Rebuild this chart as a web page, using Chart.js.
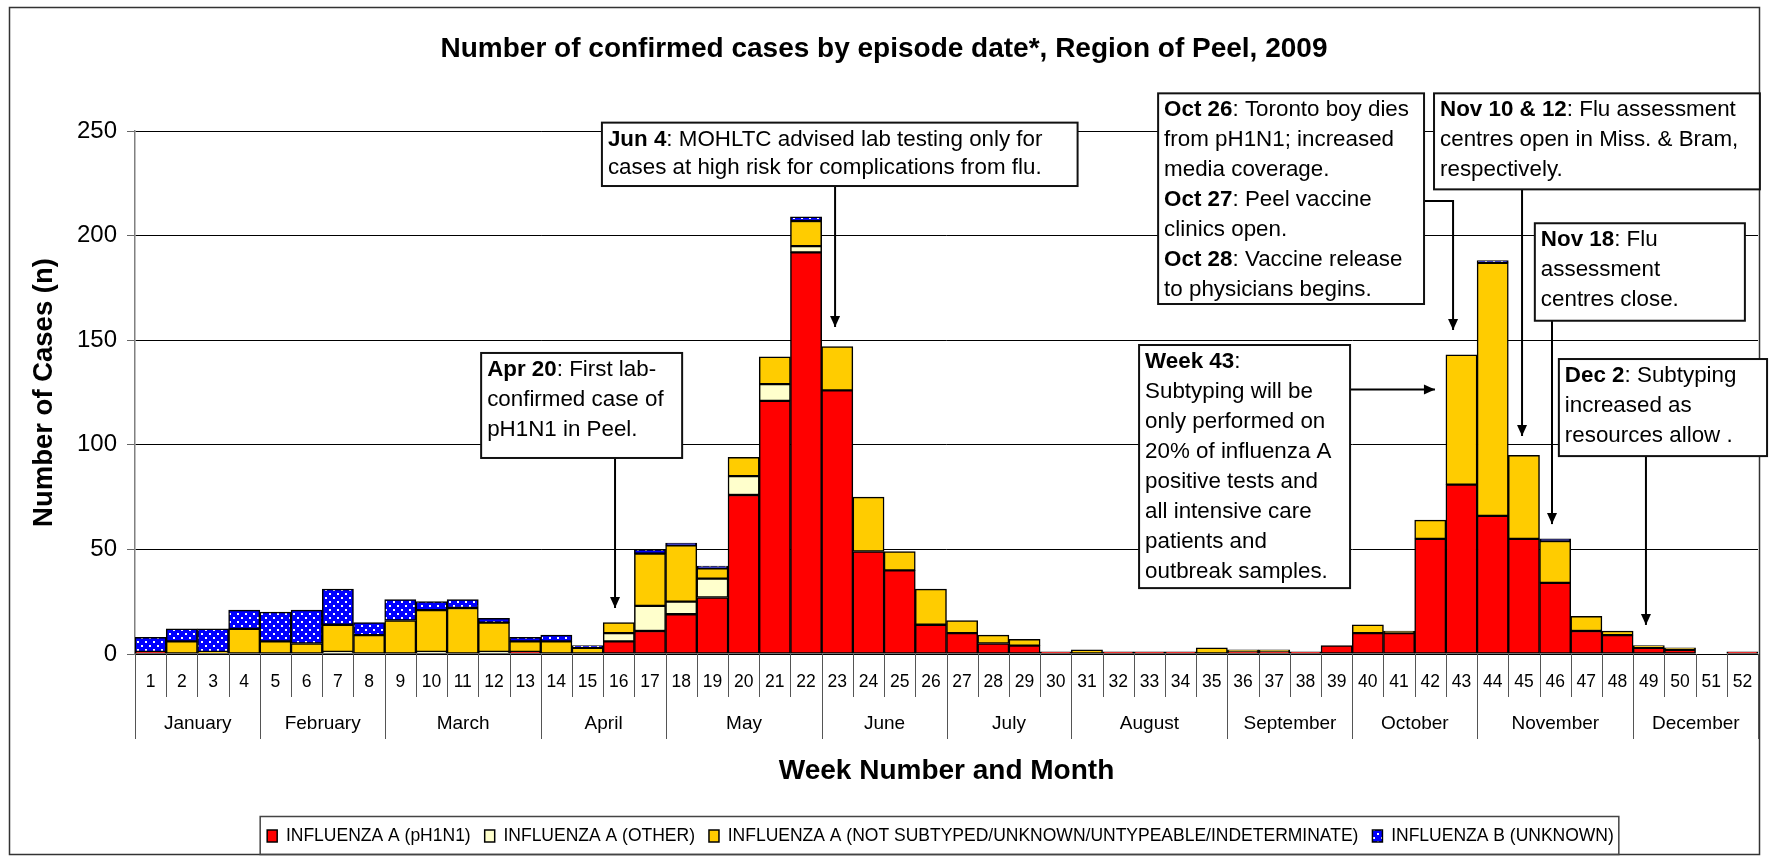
<!DOCTYPE html>
<html>
<head>
<meta charset="utf-8">
<script src="https://cdn.jsdelivr.net/npm/chart.js@4.4.1/dist/chart.umd.min.js"></script>
<style>html,body{margin:0;padding:0;background:#fff}canvas{display:block}</style>
</head>
<body>
<canvas id="c" width="1771" height="857"></canvas>
<script>
// ---------------- DATA ----------------
const weekLabels = ['1','2','3','4','5','6','7','8','9','10','11','12','13','14','15','16','17','18','19','20','21','22','23','24','25','26',
  '27','28','29','30','31','32','33','34','35','36','37','38','39','40','41','42','43','44','45','46','47','48','49','50','51','52'];
const monthNames = ['January','February','March','April','May','June','July','August','September','October','November','December'];
const weeksPerMonth = [4,4,5,4,5,4,4,5,4,4,5,4];
const seriesNames = ['INFLUENZA A (pH1N1)','INFLUENZA A (OTHER)','INFLUENZA A (NOT SUBTYPED/UNKNOWN/UNTYPEABLE/INDETERMINATE)','INFLUENZA B (UNKNOWN)'];
const fluA_pH1N1 = [1,0,0,0,0,0,0,0,0,0,0,0,1,0,0,6,11,19,27,76,121,192,126,49,40,14,
  10,5,4,1,0,1,1,1,0,1,1,1,4,10,10,55,81,66,55,34,11,9,3,2,0,1];
const fluA_other = [0,0,0,0,0,0,1,0,0,1,0,1,0,0,0,4,12,6,9,9,8,3,0,0,0,0,
  0,0,0,0,0,0,0,0,0,0,0,0,0,0,0,0,0,0,0,0,0,0,0,0,0,0];
const fluA_notSubtyped = [0,6,1,12,6,5,13,9,16,20,22,14,5,6,3,5,25,27,5,9,13,12,21,26,9,17,
  6,4,3,0,2,0,0,0,3,1,1,0,0,4,1,9,62,121,40,20,7,2,1,1,0,0];
const fluB = [7,6,11,9,14,16,17,6,10,4,4,2,2,3,1,0,2,1,1,0,0,2,0,0,0,0,
  0,0,0,0,0,0,0,0,0,0,0,0,0,0,0,0,0,1,0,1,0,0,0,0,0,0];
const yTicks = [0,50,100,150,200,250];

const chartTitle = 'Number of confirmed cases by episode date*, Region of Peel, 2009';
const xTitle = 'Week Number and Month';
const yTitle = 'Number of Cases (n)';

// annotations: box = [xStart, xEnd, yTop, yBottom] in (week index, cases) units
const notes = [
  {lines:[['Apr 20',': First lab-'],['','confirmed case of'],['','pH1N1 in Peel.']],
   box:[10.59,17.03,143.9,93.7], lh:30, arrow:[[14.88,93.7],[14.88,22.0]]},
  {lines:[['Jun 4',': MOHLTC advised lab testing only for'],['','cases at high risk for complications from flu.']],
   box:[14.46,29.70,254.0,223.7], lh:28, arrow:[[21.93,223.7],[21.93,156.3]]},
  {lines:[['Oct 26',': Toronto boy dies'],['','from pH1N1; increased'],['','media coverage.'],['Oct 27',': Peel vaccine'],['','clinics open.'],['Oct 28',': Vaccine release'],['','to physicians begins.']],
   box:[32.28,40.80,268.0,167.3], lh:30, arrow:[[40.80,216.5],[41.73,216.5],[41.73,154.9]]},
  {lines:[['Nov 10 & 12',': Flu assessment'],['','centres open in Miss. & Bram,'],['','respectively.']],
   box:[41.12,51.56,268.0,222.1], lh:30, arrow:[[43.94,222.1],[43.94,104.2]]},
  {lines:[['Week 43',':'],['','Subtyping will be'],['','only performed on'],['','20% of influenza A'],['','positive tests and'],['','all intensive care'],['','patients and'],['','outbreak samples.']],
   box:[31.67,38.43,147.7,31.5], lh:30, arrow:[[38.43,126.4],[41.15,126.4]]},
  {lines:[['Nov 18',': Flu'],['','assessment'],['','centres close.']],
   box:[44.35,51.08,205.9,159.3], lh:30, arrow:[[44.90,159.3],[44.90,62.1]]},
  {lines:[['Dec 2',': Subtyping'],['','increased as'],['','resources allow .']],
   box:[45.12,51.79,141.0,94.6], lh:30, arrow:[[47.91,94.6],[47.91,13.9]]}
];

// ---------------- STYLE ----------------
const FONT = "'Liberation Sans', Arial, Helvetica, sans-serif";
const NOTE_FS = 21.5, NOTE_SX = 1.04;

function dotPattern(){
  const c = document.createElement('canvas'); c.width = 8; c.height = 8;
  const g = c.getContext('2d');
  g.fillStyle = '#0000FF'; g.fillRect(0,0,8,8);
  g.fillStyle = '#FFFFFF'; g.fillRect(1,1,2,2); g.fillRect(5,5,2,2);
  return g.createPattern(c,'repeat');
}

const frame = {
  id:'frame',
  beforeDraw(chart){
    const {ctx,width,height} = chart;
    ctx.save();
    ctx.fillStyle = '#fff'; ctx.fillRect(0,0,width,height);
    ctx.strokeStyle = '#333'; ctx.lineWidth = 1.5;
    ctx.strokeRect(9.5,7.5,width-21,height-10);
    ctx.restore();
  }
};

const legendShift = {
  id:'legendShift',
  afterLayout(chart){
    const lg = chart.legend, ca = chart.chartArea;
    const d = (ca.left+ca.right)/2 - 6 - (lg.left+lg.right)/2;
    lg.left += d; lg.right += d;
  },
  afterDraw(chart){
    const lg = chart.legend, ctx = chart.ctx;
    const lo = chart.options.plugins.legend.labels;
    const pad = lo.padding, lw = lg.lineWidths[0];
    const x0 = (lg.left + pad + lg.right - lw)/2, x1 = x0 + lw - pad;
    const yc = lg.top + pad + lo.font.size/2;
    ctx.save();
    ctx.strokeStyle = '#444'; ctx.lineWidth = 1.5;
    ctx.strokeRect(x0-7, yc-19.5, x1-x0+12, 38);
    ctx.restore();
  }
};

const monthAxis = {
  id:'monthAxis',
  afterDraw(chart){
    const {ctx, chartArea:ca, scales:{x}} = chart;
    const b = ca.bottom;
    ctx.save();
    ctx.strokeStyle = '#555'; ctx.lineWidth = 1;
    for (let i = 0; i <= weekLabels.length; i++){
      const px = Math.round(x.getPixelForValue(i-0.5)) + 0.5;
      ctx.beginPath(); ctx.moveTo(px,b); ctx.lineTo(px,b+43); ctx.stroke();
    }
    let start = 0;
    ctx.font = `19px ${FONT}`; ctx.fillStyle = '#000';
    ctx.textAlign = 'center'; ctx.textBaseline = 'middle';
    const drawSep = (idx)=>{
      const px = Math.round(x.getPixelForValue(idx-0.5)) + 0.5;
      ctx.beginPath(); ctx.moveTo(px,b); ctx.lineTo(px,b+85); ctx.stroke();
      return px;
    };
    drawSep(0);
    monthNames.forEach((m,k)=>{
      const end = start + weeksPerMonth[k];
      const p0 = x.getPixelForValue(start-0.5), p1 = drawSep(end);
      ctx.fillText(m,(p0+p1)/2,b+70);
      start = end;
    });
    ctx.restore();
  }
};

const notesPlugin = {
  id:'notes',
  afterDraw(chart){
    const {ctx, scales:{x,y}} = chart;
    ctx.save();
    notes.forEach(n=>{
      const L = x.getPixelForValue(n.box[0]), R = x.getPixelForValue(n.box[1]);
      const T = y.getPixelForValue(n.box[2]), B = y.getPixelForValue(n.box[3]);
      const pts = n.arrow.map(p=>[x.getPixelForValue(p[0]), y.getPixelForValue(p[1])]);
      ctx.strokeStyle = '#000'; ctx.fillStyle = '#000'; ctx.lineWidth = 2;
      ctx.beginPath(); ctx.moveTo(pts[0][0],pts[0][1]);
      for (let i=1;i<pts.length;i++) ctx.lineTo(pts[i][0],pts[i][1]);
      ctx.stroke();
      const [tx,ty] = pts[pts.length-1], [fx,fy] = pts[pts.length-2];
      const ang = Math.atan2(ty-fy, tx-fx), len = 11, hw = 5;
      ctx.beginPath();
      ctx.moveTo(tx,ty);
      ctx.lineTo(tx - len*Math.cos(ang) + hw*Math.sin(ang), ty - len*Math.sin(ang) - hw*Math.cos(ang));
      ctx.lineTo(tx - len*Math.cos(ang) - hw*Math.sin(ang), ty - len*Math.sin(ang) + hw*Math.cos(ang));
      ctx.closePath(); ctx.fill();
      ctx.fillStyle = '#fff'; ctx.fillRect(L,T,R-L,B-T);
      ctx.strokeStyle = '#111'; ctx.lineWidth = 2; ctx.strokeRect(L,T,R-L,B-T);
      ctx.fillStyle = '#000'; ctx.textAlign = 'left'; ctx.textBaseline = 'middle';
      n.lines.forEach((ln,k)=>{
        ctx.save();
        ctx.translate(L+6, T+17+k*n.lh);
        ctx.scale(NOTE_SX,1);
        let xx = 0;
        if (ln[0]) { ctx.font = `bold ${NOTE_FS}px ${FONT}`; ctx.fillText(ln[0],0,0); xx = ctx.measureText(ln[0]).width; }
        ctx.font = `${NOTE_FS}px ${FONT}`; ctx.fillText(ln[1],xx,0);
        ctx.restore();
      });
    });
    ctx.restore();
  }
};

const ctx = document.getElementById('c').getContext('2d');
const fills = ['#FF0000','#FFFFCC','#FFCC00',dotPattern()];
const series = [fluA_pH1N1, fluA_other, fluA_notSubtyped, fluB];

new Chart(ctx,{
  type:'bar',
  data:{
    labels: weekLabels,
    datasets: series.map((s,i)=>({
      label: seriesNames[i],
      data: s.map(v=>v||null),
      backgroundColor: fills[i],
      borderColor:'#000', borderWidth:1.5, borderSkipped:false,
      categoryPercentage:1, barPercentage:1
    }))
  },
  options:{
    responsive:false, animation:false, devicePixelRatio:1,
    layout:{padding:{left:10,right:13,top:0,bottom:2.25}},
    scales:{
      x:{
        stacked:true, offset:true,
        grid:{display:false, drawTicks:false},
        border:{display:true,color:'#000',width:1},
        ticks:{autoSkip:false,maxRotation:0,minRotation:0,color:'#000',font:{family:FONT,size:17.5},padding:17.5},
        title:{display:true,text:xTitle,color:'#000',font:{family:FONT,size:28,weight:'bold'},padding:{top:0,bottom:25.5}},
        afterFit(s){ s.height = 159.25; }
      },
      y:{
        stacked:true, min:0, max:250,
        afterBuildTicks(s){ s.ticks = yTicks.map(v=>({value:v})); },
        ticks:{color:'#000',font:{family:FONT,size:24},padding:10},
        grid:{color:'#000',lineWidth:1,tickLength:8,tickColor:'#666'},
        border:{color:'#808080',width:1.5},
        title:{display:true,text:yTitle,color:'#000',font:{family:FONT,size:27.5,weight:'bold'},padding:{top:17.5,bottom:0}},
        afterFit(s){ s.width = 125; }
      }
    },
    plugins:{
      title:{display:true,text:chartTitle,color:'#000',font:{family:FONT,size:28,weight:'bold'},padding:{top:32,bottom:65.4}},
      legend:{position:'bottom',labels:{color:'#000',font:{family:FONT,size:17.5},boxWidth:10,boxHeight:12,padding:14}},
      tooltip:{enabled:false}
    }
  },
  plugins:[frame, monthAxis, notesPlugin, legendShift]
});
</script>
</body>
</html>
